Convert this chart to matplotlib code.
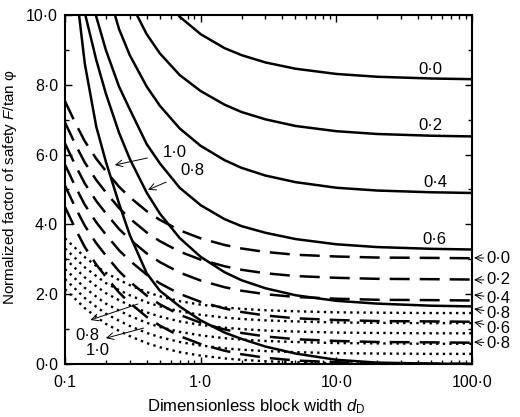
import matplotlib
matplotlib.use('Agg')
import matplotlib.pyplot as plt
from matplotlib import rcParams
from matplotlib.ticker import FixedLocator, NullFormatter, LogLocator

rcParams['font.family'] = 'sans-serif'
rcParams['font.sans-serif'] = ['Liberation Sans']
rcParams['font.size'] = 12
rcParams['mathtext.fontset'] = 'custom'
rcParams['mathtext.rm'] = 'Liberation Sans'
rcParams['mathtext.it'] = 'Liberation Sans:italic'

# block width d_D (shared by all curves)
xs = [0.1, 0.12, 0.14, 0.17, 0.2, 0.25, 0.3, 0.4, 0.5, 0.7, 1.0, 1.5, 2.0, 3.0, 5.0, 10.0, 20.0, 50.0, 100.0]

# solid family, labels 0.0 .. 1.0
solid_y = [
    [19.55, 17.83, 16.57, 15.22, 14.26, 13.14, 12.39, 11.42, 10.70, 9.95, 9.45, 9.05, 8.85, 8.64, 8.46, 8.31, 8.23, 8.18, 8.16],
    [17.91, 16.19, 14.93, 13.58, 12.62, 11.30, 10.40, 9.45, 8.90, 8.28, 7.82, 7.43, 7.22, 7.01, 6.82, 6.67, 6.59, 6.54, 6.52],
    [16.29, 14.57, 13.31, 11.96, 10.90, 9.60, 8.85, 7.95, 7.40, 6.75, 6.25, 5.84, 5.62, 5.40, 5.21, 5.05, 4.97, 4.92, 4.90],
    [14.67, 12.95, 11.60, 9.95, 9.00, 7.95, 7.30, 6.30, 5.75, 5.05, 4.55, 4.15, 3.95, 3.76, 3.58, 3.43, 3.35, 3.30, 3.28],
    [13.04, 11.32, 10.06, 8.71, 7.75, 6.63, 5.88, 4.91, 4.31, 3.61, 3.07, 2.63, 2.40, 2.17, 1.97, 1.81, 1.73, 1.67, 1.65],
    [13.50, 10.80, 8.60, 6.80, 5.80, 4.60, 3.70, 2.60, 2.10, 1.65, 1.25, 0.90, 0.72, 0.50, 0.30, 0.12, 0.04, 0.01, 0.00],
]

# dashed family
dashed_y = [
    [7.53, 6.88, 6.38, 5.88, 5.53, 5.08, 4.78, 4.38, 4.13, 3.83, 3.60, 3.41, 3.31, 3.21, 3.13, 3.08, 3.05, 3.04, 3.03],
    [6.92, 6.27, 5.77, 5.27, 4.92, 4.47, 4.17, 3.77, 3.52, 3.22, 2.99, 2.80, 2.70, 2.60, 2.52, 2.47, 2.44, 2.43, 2.42],
    [6.32, 5.67, 5.17, 4.67, 4.32, 3.87, 3.57, 3.17, 2.92, 2.62, 2.39, 2.20, 2.10, 2.00, 1.92, 1.87, 1.84, 1.83, 1.82],
    [5.71, 5.06, 4.56, 4.06, 3.71, 3.26, 2.96, 2.56, 2.31, 2.01, 1.78, 1.59, 1.49, 1.39, 1.31, 1.26, 1.23, 1.22, 1.21],
    [5.11, 4.46, 3.96, 3.46, 3.11, 2.66, 2.36, 1.96, 1.71, 1.41, 1.18, 0.99, 0.89, 0.79, 0.71, 0.66, 0.63, 0.62, 0.61],
    [4.50, 3.85, 3.35, 2.85, 2.50, 2.05, 1.75, 1.35, 1.10, 0.80, 0.57, 0.38, 0.28, 0.18, 0.10, 0.05, 0.02, 0.01, 0.00],
]

# dotted family
dotted_y = [
    [3.60, 3.31, 3.06, 2.81, 2.61, 2.41, 2.26, 2.06, 1.94, 1.80, 1.70, 1.62, 1.58, 1.54, 1.51, 1.48, 1.47, 1.46, 1.46],
    [3.31, 3.02, 2.77, 2.52, 2.32, 2.12, 1.97, 1.77, 1.65, 1.51, 1.41, 1.33, 1.29, 1.25, 1.22, 1.19, 1.18, 1.17, 1.17],
    [3.02, 2.73, 2.48, 2.23, 2.03, 1.83, 1.68, 1.48, 1.36, 1.22, 1.12, 1.04, 1.00, 0.96, 0.93, 0.90, 0.89, 0.88, 0.88],
    [2.72, 2.43, 2.18, 1.93, 1.73, 1.53, 1.38, 1.18, 1.06, 0.92, 0.82, 0.74, 0.70, 0.66, 0.63, 0.60, 0.59, 0.58, 0.58],
    [2.43, 2.14, 1.89, 1.64, 1.44, 1.24, 1.09, 0.89, 0.77, 0.63, 0.53, 0.45, 0.41, 0.37, 0.34, 0.31, 0.30, 0.29, 0.29],
    [2.14, 1.85, 1.60, 1.35, 1.15, 0.95, 0.80, 0.60, 0.48, 0.34, 0.24, 0.16, 0.12, 0.08, 0.05, 0.02, 0.01, 0.00, 0.00],
]

y_ticks = [0, 2, 4, 6, 8, 10]
y_ticklabels = ['0·0', '2·0', '4·0', '6·0', '8·0', '10·0']
x_ticks = [0.1, 1, 10, 100]
x_ticklabels = ['0·1', '1·0', '10·0', '100·0']

inner_labels = ['0·0', '0·2', '0·4', '0·6']
right_labels = ['0·0', '0·2', '0·4', '0·8', '0·6', '0·8']

fig = plt.figure(figsize=(5.2, 4.17), dpi=100)
ax = fig.add_axes([0.125, 0.1271, 0.7827, 0.837])

for ys in solid_y:
    ax.plot(xs, ys, color='black', lw=1.8, solid_capstyle='butt')
for ys in dashed_y:
    ax.plot(xs, ys, color='black', lw=1.8, dashes=(8, 4))
for ys in dotted_y:
    ax.plot(xs, ys, color='black', lw=1.7, linestyle=(0, (1, 1.8)))

ax.set_xscale('log')
ax.set_xlim(0.1, 100)
ax.set_ylim(0, 10)
ax.xaxis.set_major_locator(FixedLocator(x_ticks))
ax.set_xticklabels(x_ticklabels)
ax.xaxis.set_minor_locator(LogLocator(base=10, subs=range(2, 10)))
ax.xaxis.set_minor_formatter(NullFormatter())
ax.set_yticks(y_ticks)
ax.set_yticklabels(y_ticklabels)
ax.yaxis.set_minor_locator(FixedLocator([1, 3, 5, 7, 9]))
ax.tick_params(which='both', direction='in', top=True, right=True, width=1)
ax.tick_params(which='major', length=5, labelsize=11.5)
ax.tick_params(which='minor', length=3)
ax.tick_params(axis='x', which='major', pad=8)
ax.tick_params(axis='y', which='major', pad=5)
for s in ax.spines.values():
    s.set_linewidth(1.5)

ax.set_xlabel('Dimensionless block width $d_{\\mathrm{D}}$', fontsize=12)
ax.xaxis.set_label_coords(0.47, -0.095)
ax.set_ylabel('Normalized factor of safety $F$/tan φ', fontsize=11)
ax.yaxis.set_label_coords(-0.113, 0.507)

# labels on solid curves
inner_pos = [(0.897, 0.845), (0.897, 0.682), (0.909, 0.521), (0.907, 0.358)]
for lab, (px, py) in zip(inner_labels, inner_pos):
    ax.text(px, py, lab, transform=ax.transAxes, ha='center', va='center', fontsize=12)

# labels with arrows on the right side
right_text_y = [0.303, 0.241, 0.189, 0.146, 0.103, 0.060]
right_tip_y = [0.304, 0.241, 0.198, 0.158, 0.120, 0.063]
for lab, ty, hy in zip(right_labels, right_text_y, right_tip_y):
    ax.annotate(lab, xy=(1.005, hy), xytext=(1.036, ty), xycoords='axes fraction',
                textcoords='axes fraction', ha='left', va='center', fontsize=12,
                annotation_clip=False,
                arrowprops=dict(arrowstyle='->', lw=0.7, color='black', shrinkA=0, shrinkB=0))

# labels with arrows in the upper left
ax.annotate('1·0', xy=(0.233, 5.70), xytext=(0.64, 6.07), ha='center', va='center', fontsize=12,
            arrowprops=dict(arrowstyle='->', lw=0.7, color='black', shrinkA=9, shrinkB=0))
ax.annotate('0·8', xy=(0.409, 4.99), xytext=(0.87, 5.53), ha='center', va='center', fontsize=12,
            arrowprops=dict(arrowstyle='->', lw=0.7, color='black', shrinkA=9, shrinkB=0))

# labels with arrows in the lower left
ax.annotate('', xy=(0.154, 1.26), xytext=(0.345, 1.72),
            arrowprops=dict(arrowstyle='->', lw=0.7, color='black', shrinkA=0, shrinkB=0))
ax.annotate('', xy=(0.20, 0.74), xytext=(0.38, 1.03),
            arrowprops=dict(arrowstyle='->', lw=0.7, color='black', shrinkA=0, shrinkB=0))
ax.text(0.145, 0.83, '0·8', ha='center', va='center', fontsize=12)
ax.text(0.175, 0.40, '1·0', ha='center', va='center', fontsize=12)

fig.savefig('out.png', dpi=100)
